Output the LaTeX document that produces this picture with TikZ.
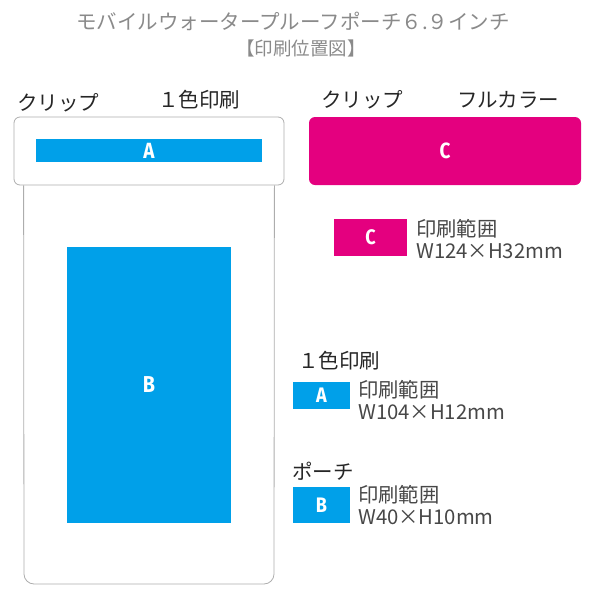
\documentclass[tikz,border=0pt]{standalone}
\usepackage{fontspec}
\setmainfont{Noto Sans CJK JP}
\newfontfamily\latinfont{Fira Sans}[FakeStretch=0.86]
\definecolor{pblue}{HTML}{00A0E9}
\definecolor{pmag}{HTML}{E4007F}
\definecolor{edgegray}{HTML}{ADADAD}
\definecolor{titlegray}{HTML}{8A8A8A}
\begin{document}
\begin{tikzpicture}[x=1pt,y=-1pt,
  area/.style={draw=none, text=white, inner sep=0pt, outer sep=0pt,
    font=\latinfont\bfseries\fontsize{22}{22}\selectfont},
  bluearea/.style={area, fill=pblue},
  magarea/.style={area, fill=pmag},
  smallfont/.style={font=\latinfont\bfseries\fontsize{21}{21}\selectfont},
  outline/.style={draw=edgegray, line width=0.8pt},
  lbl/.style={font=\fontsize{20.5}{20.5}\selectfont, text=black!85, inner sep=0pt},
  spec/.style={font=\fontsize{20.3}{22}\selectfont, text=black!72, align=left,
    anchor=west, inner sep=0pt},
  titletext/.style={text=titlegray, inner sep=0pt}
]
\useasboundingbox (0,0) rectangle (600,600);

% title
\node[titletext, font=\fontsize{20.5}{20.5}\selectfont] (title1) at (293,21) {モバイルウォータープルーフポーチ６.９インチ};
\node[titletext, font=\fontsize{18.5}{18.5}\selectfont] (title2) at (301,48) {【印刷位置図】};

% left: clip + pouch
\node[outline, rounded corners=6pt, minimum width=270pt, minimum height=68pt,
  inner sep=0pt] (clip) at (149,151) {};
\draw[outline, rounded corners=10pt] ([xshift=10pt]clip.south west) -- (24,584)
  -- (274,584) -- ([xshift=-10pt]clip.south east);
\node[bluearea, minimum width=226pt, minimum height=23pt] (A) at (149,150.5) {A};
\node[bluearea, minimum width=164pt, minimum height=276pt, font=\latinfont\bfseries\fontsize{23}{23}\selectfont] (B) at (149,385) {B};
\node[lbl, anchor=west] (cliplbl1) at (17,103) {クリップ};
\node[lbl, anchor=west] (onecol1) at (158,100) {１色印刷};

% right: full colour clip
\node[magarea, rounded corners=6pt, minimum width=272pt, minimum height=68pt] (C) at (445,151) {C};
\node[lbl, anchor=west] (cliplbl2) at (321,100) {クリップ};
\node[lbl, anchor=west] (fullcol) at (457,100) {フルカラー};

% legend
\node[magarea, smallfont, minimum width=73pt, minimum height=37pt] (Cs) at (370.5,237.5) {C};
\node[spec] (Ctext) at (416,239) {印刷範囲\\W124×H32mm};

\node[lbl, anchor=west] (onecol2) at (298,361) {１色印刷};
\node[bluearea, smallfont, minimum width=57pt, minimum height=27pt] (As) at (321.5,395.5) {A};
\node[spec] (Atext) at (358,400) {印刷範囲\\W104×H12mm};

\node[lbl, anchor=west] (pouchlbl) at (292,471) {ポーチ};
\node[bluearea, smallfont, minimum width=57pt, minimum height=36pt] (Bs) at (321.5,505) {B};
\node[spec] (Btext) at (358,505) {印刷範囲\\W40×H10mm};
\end{tikzpicture}
\end{document}
